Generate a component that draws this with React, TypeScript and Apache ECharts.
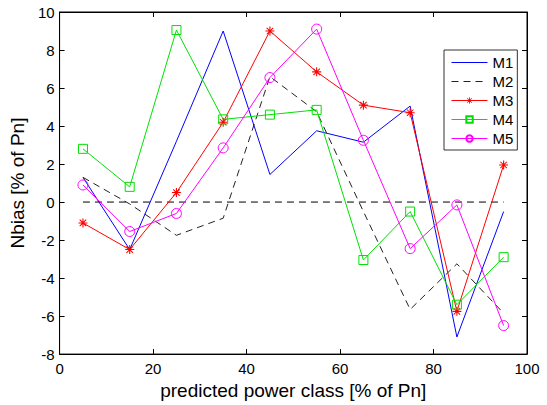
import React, { useEffect, useRef } from "react";
import * as echarts from "echarts";

const xClasses = [5, 15, 25, 35, 45, 55, 65, 75, 85, 95];
const m1 = [1.3, -2.5, 3.2, 9.0, 1.45, 3.75, 3.15, 5.05, -7.1, -0.5];
const m2 = [1.3, -0.1, -1.75, -0.85, 6.6, 4.75, -0.5, -5.65, -3.25, -5.85];
const m3 = [-1.1, -2.5, 0.5, 4.2, 9.0, 6.85, 5.1, 4.7, -5.75, 1.95];
const m4 = [2.8, 0.8, 9.05, 4.35, 4.6, 4.85, -3.05, -0.5, -5.4, -2.9];
const m5 = [0.9, -1.55, -0.6, 2.85, 6.55, 9.1, 3.25, -2.45, -0.15, -6.5];
const zeroLine = [[5, 0], [95, 0]];
const seriesNames = ["M1", "M2", "M3", "M4", "M5"];

const asterisk =
  "path://M4.4 0L5.6 0L5.6 10L4.4 10Z M0 4.4L10 4.4L10 5.6L0 5.6Z M1 1.8L1.8 1L9 8.2L8.2 9Z M8.2 1L9 1.8L1.8 9L1 8.2Z";

const pair = (ys: number[]) => xClasses.map((x, i) => [x, ys[i]]);

export default function App() {
  const ref = useRef<HTMLDivElement>(null);
  useEffect(() => {
    if (!ref.current) return;
    const chart = echarts.init(ref.current, undefined, { renderer: "svg" });
    const font = "'Liberation Sans', Arial, sans-serif";
    const axisCommon = { min: 0, max: 100, interval: 20 };
    const yCommon = { min: -8, max: 10, interval: 2 };
    const legendData = seriesNames.map((n, i) =>
      i < 2 ? { name: n, itemStyle: { opacity: 0 } } : { name: n }
    );
    chart.setOption({
      animation: false,
      backgroundColor: "#fff",
      textStyle: { fontFamily: font },
      grid: {
        left: 57,
        right: 20,
        top: 12,
        bottom: 47,
        show: true,
        borderColor: "#000",
        borderWidth: 1,
        backgroundColor: "#fff",
      },
      legend: {
        data: legendData,
        orient: "vertical",
        left: 444,
        top: 50,
        itemWidth: 36,
        itemHeight: 8,
        itemGap: 4,
        padding: [5, 4, 4, 7],
        borderColor: "#333",
        borderWidth: 1,
        backgroundColor: "#fff",
        selectedMode: false,
        lineStyle: { width: 1 },
        textStyle: { fontSize: 15, color: "#000", fontFamily: font, lineHeight: 14 },
      },
      xAxis: [
        {
          type: "value",
          ...axisCommon,
          name: "predicted power class [% of Pn]",
          nameLocation: "middle",
          nameGap: 26,
          nameTextStyle: { fontSize: 19, color: "#000", fontFamily: font },
          axisLine: { show: true, onZero: false, lineStyle: { color: "#000" } },
          axisTick: { show: true, inside: true, length: 5, lineStyle: { color: "#000" } },
          axisLabel: { fontSize: 15, color: "#000", margin: 7, fontFamily: font },
          splitLine: { show: false },
        },
        {
          type: "value",
          ...axisCommon,
          position: "top",
          axisLine: { show: true, onZero: false, lineStyle: { color: "#000" } },
          axisTick: { show: true, inside: true, length: 5, lineStyle: { color: "#000" } },
          axisLabel: { show: false },
          splitLine: { show: false },
        },
      ],
      yAxis: [
        {
          type: "value",
          ...yCommon,
          name: "Nbias [% of Pn]",
          nameLocation: "middle",
          nameGap: 25,
          nameTextStyle: { fontSize: 19, color: "#000", fontFamily: font },
          axisLine: { show: true, onZero: false, lineStyle: { color: "#000" } },
          axisTick: { show: true, inside: true, length: 5, lineStyle: { color: "#000" } },
          axisLabel: { fontSize: 15, color: "#000", margin: 5, fontFamily: font },
          splitLine: { show: false },
        },
        {
          type: "value",
          ...yCommon,
          position: "right",
          axisLine: { show: true, onZero: false, lineStyle: { color: "#000" } },
          axisTick: { show: true, inside: true, length: 5, lineStyle: { color: "#000" } },
          axisLabel: { show: false },
          splitLine: { show: false },
        },
      ],
      series: [
        {
          name: "zero",
          type: "line",
          data: zeroLine,
          symbol: "none",
          lineStyle: { color: "#000", width: 1, type: [7, 5] },
          z: 1,
        },
        {
          name: "M1",
          type: "line",
          data: pair(m1),
          symbol: "none",
          itemStyle: { color: "#0000ff" },
          lineStyle: { color: "#0000ff", width: 1 },
        },
        {
          name: "M2",
          type: "line",
          data: pair(m2),
          symbol: "none",
          itemStyle: { color: "#222" },
          lineStyle: { color: "#222", width: 1, type: [7, 5] },
        },
        {
          name: "M3",
          type: "line",
          data: pair(m3),
          symbol: asterisk,
          symbolSize: 9,
          itemStyle: { color: "#ff0000" },
          lineStyle: { color: "#ff0000", width: 1 },
        },
        {
          name: "M4",
          type: "line",
          data: pair(m4),
          symbol: "rect",
          symbolSize: 9,
          itemStyle: { color: "transparent", borderColor: "#00e000", borderWidth: 1 },
          lineStyle: { color: "#00e000", width: 1 },
        },
        {
          name: "M5",
          type: "line",
          data: pair(m5),
          symbol: "circle",
          symbolSize: 10,
          itemStyle: { color: "transparent", borderColor: "#ff00ff", borderWidth: 1 },
          lineStyle: { color: "#ff00ff", width: 1 },
        },
      ],
    });
    return () => chart.dispose();
  }, []);
  return <div ref={ref} style={{ width: 547, height: 405, position: "absolute", left: 0, top: 0 }} />;
}
